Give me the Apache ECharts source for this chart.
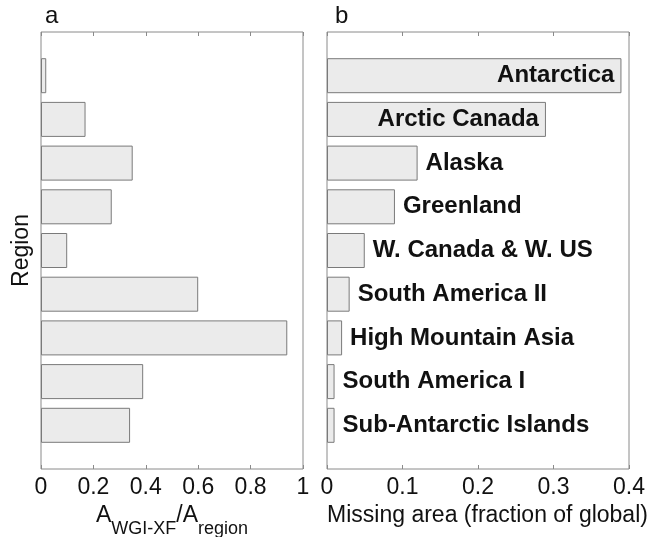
<!DOCTYPE html>
<html><head><meta charset="utf-8">
<script src="https://cdn.jsdelivr.net/npm/echarts@6/dist/echarts.min.js"></script>
<style>html,body{margin:0;padding:0;background:#fff}#c{width:652px;height:537px}</style>
</head><body><div id="c"></div>
<script>
const regions = ['Antarctica','Arctic Canada','Alaska','Greenland','W. Canada & W. US','South America II','High Mountain Asia','South America I','Sub-Antarctic Islands'];
const wgiFraction = [0.02,0.17,0.35,0.27,0.10,0.60,0.94,0.39,0.34];
const missingArea = [0.39,0.29,0.12,0.09,0.05,0.03,0.02,0.01,0.01];
const axisA = {min:0, max:1, interval:0.2};
const axisB = {min:0, max:0.4, interval:0.1};

const FONT = '"Liberation Sans", Arial, sans-serif';
const cats = [' '].concat(regions, ['  ']);
const frame = '#8a8a8a';
const barStyle = {color:'#ebebeb', borderColor:'#7a7a7a', borderWidth:1};

function xAx(grid, rng, pos, extra){
  return Object.assign({
    type:'value', gridIndex:grid, position:pos, min:rng.min, max:rng.max, interval:rng.interval,
    axisLine:{show:false}, splitLine:{show:false},
    axisTick:{show:true, inside:true, length:4, lineStyle:{color:frame}},
    axisLabel:{show: pos==='bottom', color:'#111', fontSize:23, fontFamily:FONT, margin:7}
  }, extra||{});
}
function yAx(grid, extra){
  return Object.assign({
    type:'category', gridIndex:grid, data:cats, inverse:true, boundaryGap:false,
    axisLine:{show:false}, axisTick:{show:false}, axisLabel:{show:false}, splitLine:{show:false}
  }, extra||{});
}

const dataB = missingArea.map(v => ({
  value: v,
  label: v > 0.2 ? {position:'insideRight', distance:7} : {position:'right', distance:8}
}));

const titleStyle = {fontSize:24, fontWeight:'normal', color:'#111', fontFamily:FONT};
const option = {
  animation:false,
  backgroundColor:'#fff',
  title:[
    {text:'a', left:45, top:4, padding:0, textStyle:titleStyle},
    {text:'b', left:335, top:4, padding:0, textStyle:titleStyle}
  ],
  grid:[
    {left:41, top:32, width:262, height:437, show:true, borderColor:frame, borderWidth:1, backgroundColor:'transparent', containLabel:false, outerBoundsMode:'none'},
    {left:327, top:32, width:302, height:437, show:true, borderColor:frame, borderWidth:1, backgroundColor:'transparent', containLabel:false, outerBoundsMode:'none'}
  ],
  xAxis:[
    xAx(0, axisA, 'bottom', {
      name:'{a|A}{s|WGI-XF}{a|/A}{s|region}', nameLocation:'middle', nameGap:29,
      nameTextStyle:{rich:{
        a:{fontSize:23, fontFamily:FONT, color:'#111', lineHeight:34, verticalAlign:'top'},
        s:{fontSize:18, fontFamily:FONT, color:'#111', lineHeight:34, verticalAlign:'bottom'}
      }}
    }),
    xAx(0, axisA, 'top'),
    xAx(1, axisB, 'bottom', {
      name:'Missing area (fraction of global)', nameLocation:'middle', nameGap:26,
      nameTextStyle:{fontSize:23, fontFamily:FONT, color:'#111', padding:[0,0,0,19]}
    }),
    xAx(1, axisB, 'top')
  ],
  yAxis:[
    yAx(0, {name:'Region', nameLocation:'middle', nameGap:8, nameTextStyle:{fontSize:23, fontFamily:FONT, color:'#111'}}),
    yAx(1)
  ],
  series:[
    {type:'bar', xAxisIndex:0, yAxisIndex:0, barWidth:35, itemStyle:barStyle,
     data:['-'].concat(wgiFraction, ['-'])},
    {type:'bar', xAxisIndex:2, yAxisIndex:1, barWidth:35, itemStyle:barStyle,
     label:{show:true, formatter:p => p.name, fontSize:24, fontWeight:'bold', color:'#111', fontFamily:FONT},
     data:['-'].concat(dataB, ['-'])}
  ]
};
echarts.init(document.getElementById('c')).setOption(option);
</script></body></html>
